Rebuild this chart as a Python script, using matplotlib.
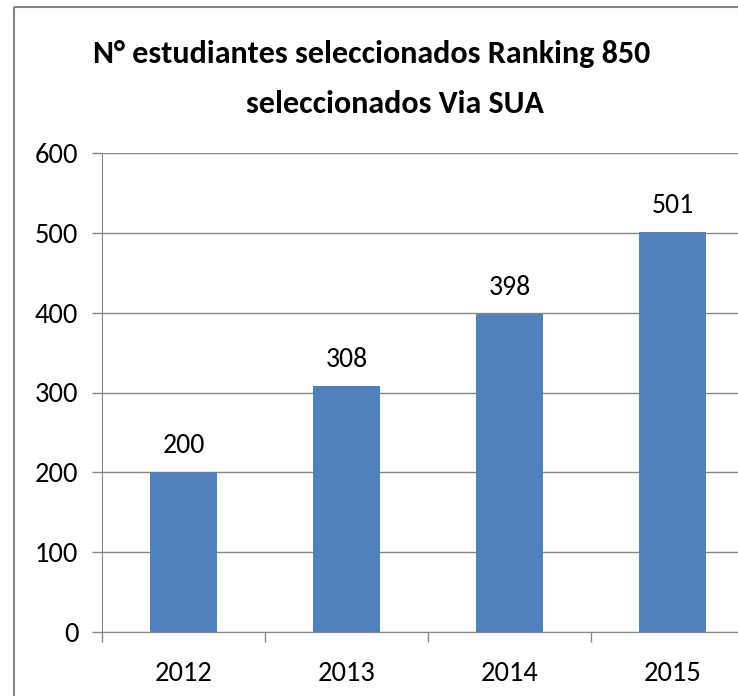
import matplotlib
matplotlib.use("Agg")
import matplotlib.pyplot as plt
from matplotlib.lines import Line2D

years = ["2012", "2013", "2014", "2015"]
students = [200, 308, 398, 501]
title_lines = ["N° estudiantes seleccionados Ranking 850", "seleccionados Via SUA"]

plt.rcParams["font.family"] = ["Carlito", "DejaVu Sans"]

fig = plt.figure(figsize=(7.38, 6.96), dpi=100, frameon=False)

# outer chart frame: only top and left edges are visible (picture is cropped)
fx, fy = 14 / 738, 1 - 7 / 696
fig.add_artist(Line2D([fx, 1.05], [fy, fy], transform=fig.transFigure, color="#868686",
                      lw=1.5, solid_capstyle="butt"))
fig.add_artist(Line2D([fx, fx], [-0.05, fy], transform=fig.transFigure, color="#868686",
                      lw=1.5, solid_capstyle="butt"))

# plot area runs off the right edge; keep the axes inside the figure and cut the x range
ax = fig.add_axes([102 / 738, 64 / 696, 636 / 738, 479 / 696])
ax.patch.set_visible(False)
x = range(len(years))
ax.bar(x, students, width=0.405, color="#4F81BD", zorder=3)
for i, v in enumerate(students):
    ax.annotate(str(v), (i, v), xytext=(0, 10), textcoords="offset points",
                ha="center", va="bottom", fontsize=20, color="black")

ax.set_xlim(-0.5, -0.5 + 636 / 163)
ax.set_ylim(0, 600)
ax.set_yticks([0, 100, 200, 300, 400, 500, 600])
ax.set_xticks(x)
ax.set_xticklabels(years)
ax.set_xticks([-0.5, 0.5, 1.5, 2.5], minor=True)
ax.tick_params(axis="x", which="major", length=0, labelsize=20.5, pad=21)
ax.tick_params(axis="x", which="minor", length=7, color="#868686", width=1)
ax.tick_params(axis="y", length=7, color="#868686", width=1, labelsize=20.5, pad=10)
ax.yaxis.grid(True, color="#868686", linewidth=1, zorder=0)
for s in ["top", "right"]:
    ax.spines[s].set_visible(False)
ax.spines["left"].set_color("#868686")
ax.spines["bottom"].set_color("#868686")

fig.text(372 / 738, 1 - 63 / 696, title_lines[0], ha="center", va="baseline",
         fontsize=23, fontweight="bold")
fig.text(395 / 738, 1 - 113 / 696, title_lines[1], ha="center", va="baseline",
         fontsize=23, fontweight="bold")

fig.savefig("out.png", dpi=100, facecolor="white", edgecolor="none")
